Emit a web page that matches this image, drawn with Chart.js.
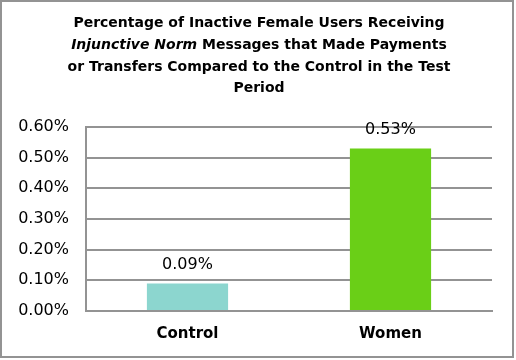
<!DOCTYPE html>
<html>
<head>
<meta charset="utf-8">
<script src="https://cdn.jsdelivr.net/npm/chart.js@4"></script>
<style>
html,body{margin:0;padding:0;background:#fff;}
#wrap{width:516px;height:360px;position:relative;}
</style>
</head>
<body>
<div id="wrap"><canvas id="c" width="516" height="360"></canvas></div>
<script>
const categories = ["Control", "Women"];
const values = [0.09, 0.53];
const valueLabels = ["0.09%", "0.53%"];
const barColors = ["#8cd6cf", "#6acf17"];
// title lines: each an array of [text, italic]
const titleLines = [
  [["Percentage of Inactive Female Users Receiving", false]],
  [["Injunctive Norm", true], [" Messages that Made Payments", false]],
  [["or Transfers Compared to the Control in the Test", false]],
  [["Period", false]]
];
const yTicks = [0, 0.1, 0.2, 0.3, 0.4, 0.5, 0.6];

const FONT = "'DejaVu Sans', sans-serif";
const GRAY = "#939393";

const framePlugin = {
  id: 'frame',
  afterDraw(chart) {
    const ctx = chart.ctx;
    ctx.save();
    // border
    ctx.strokeStyle = GRAY;
    ctx.lineWidth = 2;
    ctx.strokeRect(1, 1, 512, 356);
    // title
    ctx.fillStyle = "#000";
    ctx.textBaseline = "middle";
    const ys = [23, 45, 67, 88];
    titleLines.forEach((segs, i) => {
      let total = 0;
      const fonts = segs.map(([t, it]) => (it ? "italic " : "") + "bold 14px " + FONT);
      segs.forEach(([t], j) => { ctx.font = fonts[j]; total += ctx.measureText(t).width; });
      let x = 259 - total / 2;
      ctx.textAlign = "left";
      segs.forEach(([t], j) => {
        ctx.font = fonts[j];
        ctx.fillText(t, x, ys[i]);
        x += ctx.measureText(t).width;
      });
    });
    // value labels
    const meta = chart.getDatasetMeta(0);
    ctx.font = "16px " + FONT;
    ctx.textAlign = "center";
    meta.data.forEach((bar, i) => {
      ctx.fillText(valueLabels[i], bar.x, bar.y - 19);
    });
    ctx.restore();
  }
};

new Chart(document.getElementById('c'), {
  type: 'bar',
  data: {
    labels: categories,
    datasets: [{
      data: values,
      backgroundColor: barColors,
      borderWidth: 0,
      categoryPercentage: 0.8,
      barPercentage: 0.5
    }]
  },
  options: {
    responsive: false,
    animation: false,
    devicePixelRatio: 1,
    layout: { padding: { top: 127, right: 24, bottom: 0, left: 0 } },
    plugins: {
      legend: { display: false },
      title: { display: false },
      tooltip: { enabled: false }
    },
    scales: {
      x: {
        grid: { display: false, drawTicks: false },
        border: { color: GRAY, width: 2 },
        ticks: { color: "#000", font: { family: FONT, size: 15, weight: "bold" }, padding: 14 },
        afterFit(scale) { scale.height = 49; }
      },
      y: {
        min: 0, max: 0.6,
        afterBuildTicks(scale) { scale.ticks = yTicks.map(v => ({ value: v })); },
        grid: { color: GRAY, lineWidth: 2, drawTicks: false },
        border: { color: GRAY, width: 2 },
        ticks: {
          color: "#000",
          font: { family: FONT, size: 16 },
          padding: 17,
          callback: v => v.toFixed(2) + "%"
        },
        afterFit(scale) { scale.width = 86; }
      }
    }
  },
  plugins: [framePlugin]
});
</script>
</body>
</html>
